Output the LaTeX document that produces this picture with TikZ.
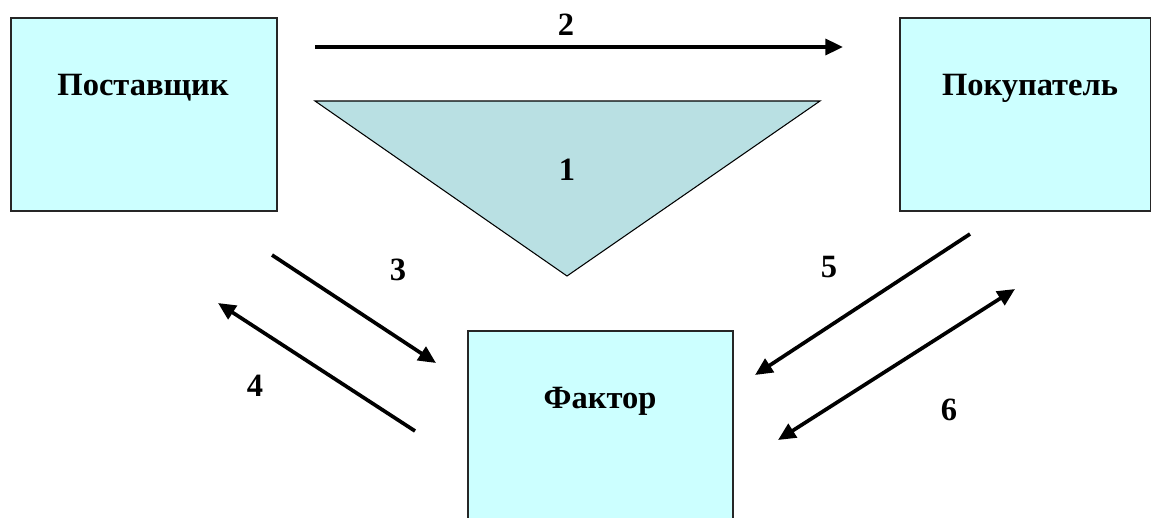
\documentclass[tikz,border=0pt]{standalone}
\usepackage{fontspec}
\setmainfont{Liberation Serif}
\usetikzlibrary{positioning, arrows.meta}

\definecolor{boxfill}{RGB}{204,255,255}
\definecolor{trifill}{RGB}{185,224,227}

\begin{document}
\begin{tikzpicture}[
  x=0.02cm, y=-0.02cm,
  box/.style={draw=black!85, line width=1.1pt, fill=boxfill, rectangle, anchor=north west},
  boxtext/.style={font=\fontsize{18.5}{22}\selectfont\bfseries},
  num/.style={font=\fontsize{18.5}{22}\selectfont\bfseries},
  arrow/.style={line width=2.1pt, -{Triangle[length=10pt,width=9pt]}}
]
\clip (0,0) rectangle (1151,517);
\useasboundingbox (0,0) rectangle (1151,517);

% Nodes
\node[box, minimum width=5.32cm, minimum height=3.86cm] (supplier) at (10,17) {};
\node[box, minimum width=5.02cm, minimum height=3.86cm] (buyer) at (899,17) {};
\node[box, minimum width=5.30cm, minimum height=4.2cm] (factor) at (467,330) {};
\node[boxtext] (suppliertext) at (143,88) {Поставщик};
\node[boxtext] (buyertext) at (1030,88) {Покупатель};
\node[boxtext] (factortext) at (600,401) {Фактор};

\draw[line width=0.6pt, fill=trifill] (315,101) -- (820,101) -- (567,276) -- cycle;
\node[num] (n1) at (567,170) {1};

% Free ends
\coordinate (a2s) at (315,47);
\coordinate (a2e) at (843,47);
\coordinate (a3s) at (272,255);
\coordinate (a3e) at (436,363);
\coordinate (a4s) at (415,431);
\coordinate (a4e) at (218,303);
\coordinate (a5s) at (970,234);
\coordinate (a5e) at (755,375);
\coordinate (a6s) at (1015,289);
\coordinate (a6e) at (778,440);

% Lines
\draw[arrow] (a2s) -- (a2e);
\draw[arrow] (a3s) -- (a3e);
\draw[arrow] (a4s) -- (a4e);
\draw[arrow] (a5s) -- (a5e);
\draw[arrow, {Triangle[length=10pt,width=9pt]}-{Triangle[length=10pt,width=9pt]}] (a6s) -- (a6e);

\node[num] (n2) at (566,25) {2};
\node[num] (n3) at (398,270) {3};
\node[num] (n4) at (255,386) {4};
\node[num] (n5) at (829,267) {5};
\node[num] (n6) at (949,410) {6};

\end{tikzpicture}
\end{document}
